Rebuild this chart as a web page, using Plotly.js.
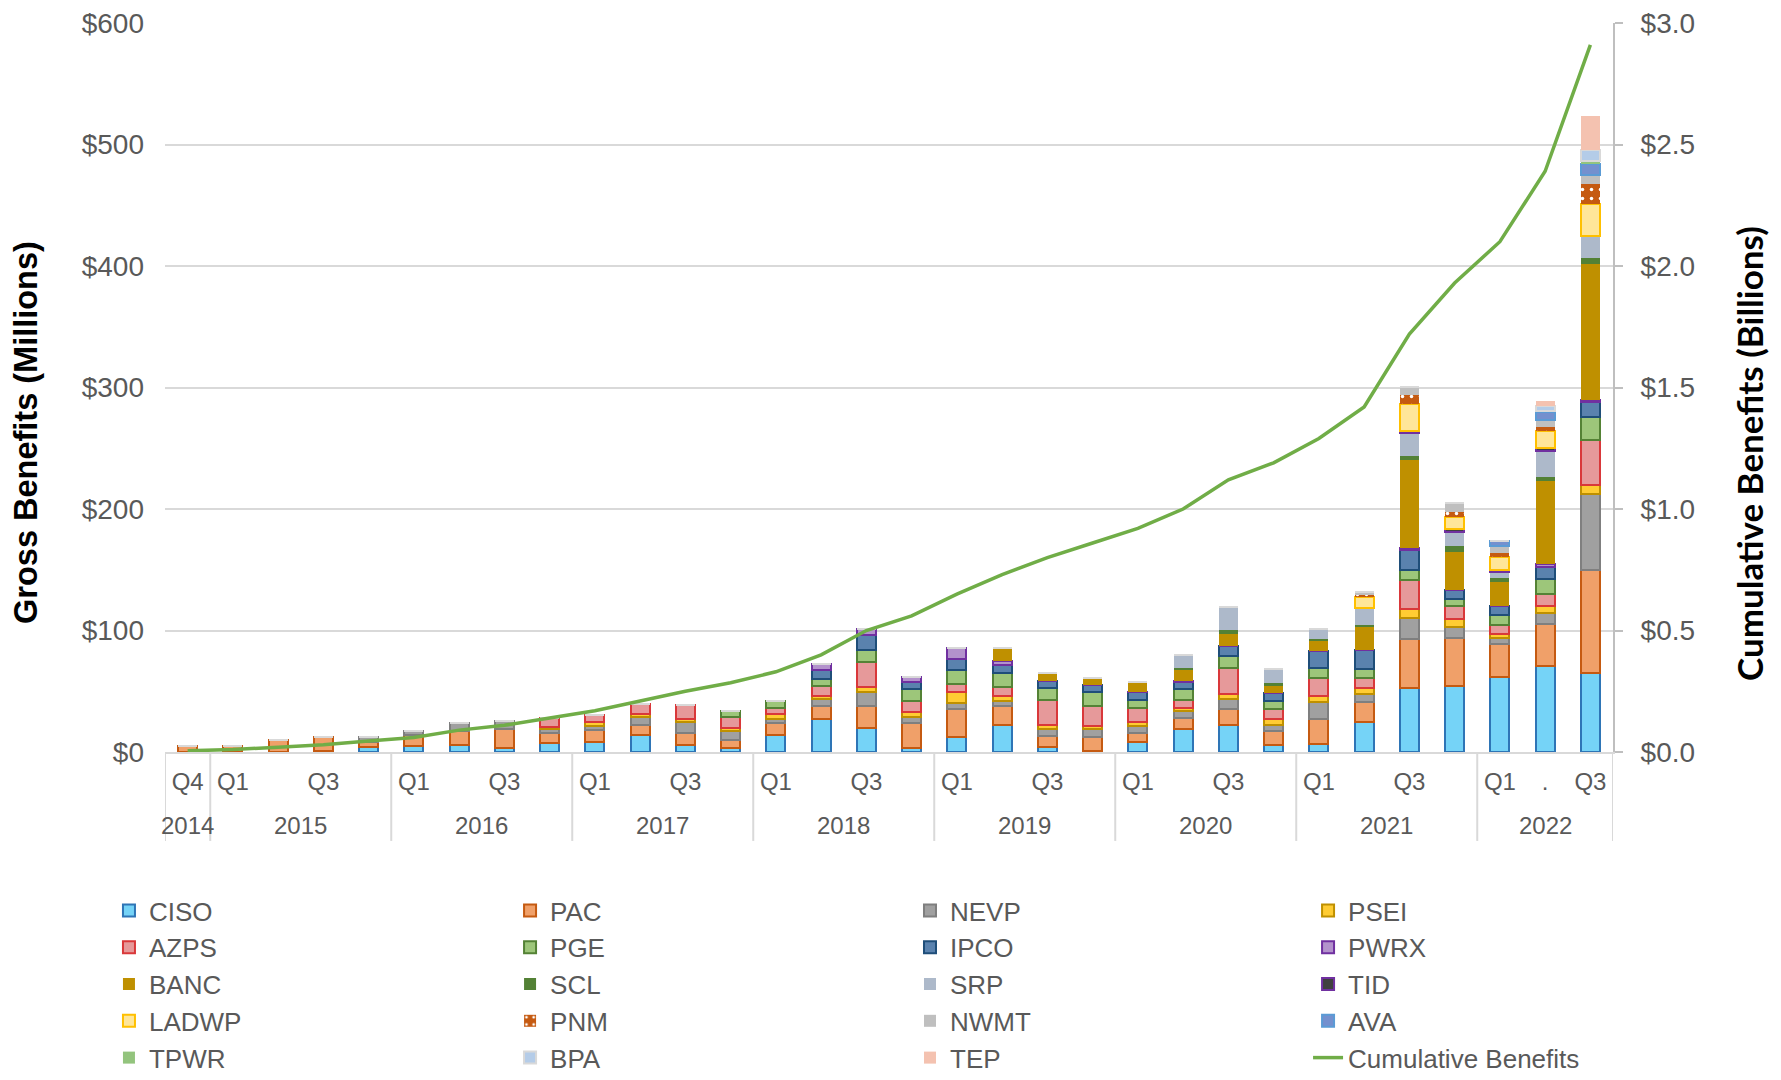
<!DOCTYPE html>
<html>
<head>
<meta charset="utf-8">
<script src="https://cdn.plot.ly/plotly-3.0.1.min.js"></script>
<style>
html,body{margin:0;padding:0;background:#ffffff;}
#chart{width:1781px;height:1080px;}
</style>
</head>
<body>
<div id="chart"></div>
<script>
// ---- Categories (2014 Q4 .. 2022 Q3) ----
const years = ["2014",
  "2015","2015","2015","2015",
  "2016","2016","2016","2016",
  "2017","2017","2017","2017",
  "2018","2018","2018","2018",
  "2019","2019","2019","2019",
  "2020","2020","2020","2020",
  "2021","2021","2021","2021",
  "2022","2022","2022"];
const quarters = ["Q4",
  "Q1","Q2","Q3","Q4", "Q1","Q2","Q3","Q4", "Q1","Q2","Q3","Q4",
  "Q1","Q2","Q3","Q4", "Q1","Q2","Q3","Q4", "Q1","Q2","Q3","Q4",
  "Q1","Q2","Q3","Q4", "Q1","Q2","Q3"];
// Quarter tick labels as printed on the chart (Q2/Q4 unlabeled)
const quarterLabels = ["Q4",
  "Q1","","Q3","", "Q1","","Q3","", "Q1","","Q3","",
  "Q1","","Q3","", "Q1","","Q3","", "Q1","","Q3","",
  "Q1","","Q3","", "Q1",".","Q3"];

// ---- Gross benefits by entity ($ millions) ----
const CISO  = [0,0,0,1,4, 4.7,6,3.3,7.1, 8,14,6,3, 14,27,19.5,3, 12,22,4,0.5, 8,19,22,6, 7,25,53,54, 62,71,65];
const PAC   = [5,5,9.5,11,4, 9.6,11.5,15.6,8.2, 10.2,8.5,9.5,7, 9.5,11,18.5,21, 23,15.5,9.5,11.5, 7.5,9,13.5,11, 20.5,16,40,40, 26.5,34.5,85];
const NEVP  = [0,0,0,0,4, 3.3,6,6.9,3.6, 3.6,6,9,7, 4,5.5,11,4.7, 5.5,4.4,5.5,7, 5.5,5.5,8,5.5, 14,6.5,17.5,9, 5,9,62];
const PSEI  = [0,0,0,0,0, 0,0,0,1.4, 2.5,2.7,3,2.7, 3.5,2.7,4.4,4, 8.8,3.8,3.3,2.7, 3.6,2.7,4,4.7, 5,5.3,7.6,6.8, 3.8,6,8];
const AZPS  = [0,0,0,0,0, 0,0,0,7.4, 6.5,8,11.5,8.8, 5,8.2,20.6,9.3, 7,7.7,20.5,16.5, 11.8,6.3,22,8.2, 14.7,7.9,23.5,10, 7.4,9.7,36.7];
const PGE   = [0,0,0,0,0, 0,0,0,0, 0,0,0,5, 6,5.5,9.6,10, 11.5,11.5,9.6,11, 6.6,9.3,9.6,6.3, 8,7.6,8,6, 8.2,11.8,19];
const IPCO  = [0,0,0,0,0, 0,0,0,0, 0,0,0,0, 0,7.7,13,6, 8.8,7.1,6.3,6.3, 6,5.5,8.2,6.6, 14,16,17,7.6, 7.1,10.3,12];
const PWRX  = [0,0,0,0,0, 0,0,0,0, 0,0,0,0, 0,4.7,4.9,4, 9.3,2.7,0,0, 0.5,0.8,0,0, 0,0,1,0, 0,2.4,2];
const BANC  = [0,0,0,0,0, 0,0,0,0, 0,0,0,0, 0,0,0,0, 0,11,6.6,5.5, 8.5,10.2,9.6,6.3, 8.2,18.5,73,31.5, 20,68,112];
const SCL   = [0,0,0,0,0, 0,0,0,0, 0,0,0,0, 0,0,0,0, 0,0,0,0, 0,0.8,3.3,1.9, 2,2,2.9,4.4, 3.5,3.5,4.8];
const SRP   = [0,0,0,0,0, 0,0,0,0, 0,0,0,0, 0,0,0,0, 0,0,0,0, 0,11,19.2,11.8, 7.9,14,19,11.8, 4.7,21.5,18];
const TID   = [0,0,0,0,0, 0,0,0,0, 0,0,0,0, 0,0,0,0, 0,0,0,0, 0,0,0,0, 0,0,2,2.4, 1.5,2.9,0.5];
const LADWP = [0,0,0,0,0, 0,0,0,0, 0,0,0,0, 0,0,0,0, 0,0,0,0, 0,0,0,0, 0,8.8,22,10, 11,13.8,26];
const PNM   = [0,0,0,0,0, 0,0,0,0, 0,0,0,0, 0,0,0,0, 0,0,0,0, 0,0,0,0, 0,1.5,7.4,3.8, 2.9,3,16.7];
const NWMT  = [0,0,0,0,0, 0,0,0,0, 0,0,0,0, 0,0,0,0, 0,0,0,0, 0,0,0,0, 0,2.9,6.5,7.4, 6,6,7.2];
const AVA   = [0,0,0,0,0, 0,0,0,0, 0,0,0,0, 0,0,0,0, 0,0,0,0, 0,0,0,0, 0,0,0,0, 3.8,6.5,8.8];
const TPWR  = [0,0,0,0,0, 0,0,0,0, 0,0,0,0, 0,0,0,0, 0,0,0,0, 0,0,0,0, 0,0,0,0, 0,1,2.8];
const BPA   = [0,0,0,0,0, 0,0,0,0, 0,0,0,0, 0,0,0,0, 0,0,0,0, 0,0,0,0, 0,0,0,0, 0,3.5,9.2];
const TEP   = [0,0,0,0,0, 0,0,0,0, 0,0,0,0, 0,0,0,0, 0,0,0,0, 0,0,0,0, 0,0,0,0, 0,4.4,28];

// ---- Cumulative benefits ($ billions) ----
const cumulative = [0.005,0.01,0.02,0.03,0.045, 0.06,0.09,0.11,0.14, 0.17,0.21,0.25,0.285, 0.33,0.40,0.50,0.56, 0.65,0.73,0.80,0.86, 0.92,1.00,1.12,1.19, 1.29,1.42,1.72,1.93, 2.10,2.39,2.91];

// ---- Styles ----
const styles = {
  CISO:  {fill:'#75D3F7', border:'#2E75B6', w:2},
  PAC:   {fill:'#F0A069', border:'#C55A11', w:2},
  NEVP:  {fill:'#A0A0A0', border:'#7F7F7F', w:2},
  PSEI:  {fill:'#FFCC33', border:'#BF9000', w:2},
  AZPS:  {fill:'#E6999A', border:'#D9383A', w:2},
  PGE:   {fill:'#9DC67A', border:'#548235', w:2},
  IPCO:  {fill:'#5A82AE', border:'#1F4E79', w:2},
  PWRX:  {fill:'#B392CC', border:'#7030A0', w:2},
  BANC:  {fill:'#BF9000', border:'#BF9000', w:0},
  SCL:   {fill:'#538135', border:'#538135', w:0},
  SRP:   {fill:'#ADB9CA', border:'#ADB9CA', w:0},
  TID:   {fill:'#404040', border:'#7030A0', w:2},
  LADWP: {fill:'#FFE699', border:'#FFC000', w:2},
  PNM:   {fill:'#C55A11', border:'#C55A11', w:0, pattern:true},
  NWMT:  {fill:'#BFBFBF', border:'#BFBFBF', w:0},
  AVA:   {fill:'#7490CE', border:'#5B9BD5', w:2},
  TPWR:  {fill:'#93C47D', border:'#93C47D', w:0},
  BPA:   {fill:'#B4CCE8', border:'#D9D9D9', w:2},
  TEP:   {fill:'#F4C2B0', border:'#F4C2B0', w:0}
};

const seriesData = {CISO, PAC, NEVP, PSEI, AZPS, PGE, IPCO, PWRX, BANC, SCL, SRP, TID, LADWP, PNM, NWMT, AVA, TPWR, BPA, TEP};
const categories = years.map((y, i) => y + ' ' + quarters[i]);

// legend is laid out as 4 columns, filled row by row
const legendIds = ['legend', 'legend2', 'legend3', 'legend4'];

const traces = Object.keys(seriesData).map((name, k) => {
  const s = styles[name];
  const marker = {color: s.fill, line: {color: s.border, width: s.w}};
  if (s.pattern) {
    marker.pattern = {shape: '.', bgcolor: s.fill, fgcolor: '#ffffff', fgopacity: 1, size: 9, solidity: 0.12};
  }
  return {
    type: 'bar', name: name, x: categories, y: seriesData[name],
    marker: marker, hoverinfo: 'name+y', legend: legendIds[k % 4]
  };
});

traces.push({
  type: 'scatter', mode: 'lines', name: 'Cumulative Benefits',
  x: categories, y: cumulative, yaxis: 'y2',
  line: {color: '#70AD47', width: 3.5}, legend: legendIds[traces.length % 4]
});

// ---- Year group labels and dividers derived from the years array ----
const yearGroups = [];
years.forEach((y, i) => {
  const g = yearGroups[yearGroups.length - 1];
  if (g && g.year === y) g.last = i; else yearGroups.push({year: y, first: i, last: i});
});
const labelFont = {family: 'Liberation Sans, Arial, sans-serif', size: 24, color: '#595959'};
const yearAnnotations = yearGroups.map(g => ({
  text: g.year, xref: 'x', yref: 'paper', x: (g.first + g.last) / 2, y: -0.1015,
  xanchor: 'center', yanchor: 'middle', showarrow: false, font: labelFont
}));
const dividerShapes = yearGroups.map(g => g.first - 0.5)
  .concat([yearGroups[yearGroups.length - 1].last + 0.5])
  .map(xb => ({type: 'line', xref: 'x', yref: 'paper', x0: xb, x1: xb, y0: 0, y1: -0.122,
               line: {color: '#d9d9d9', width: 2}, layer: 'below'}));

const tickFont = {family: 'Liberation Sans, Arial, sans-serif', size: 28, color: '#595959'};
const legendFont = {family: 'Liberation Sans, Arial, sans-serif', size: 26, color: '#595959'};
const legendColumnsX = [-0.0387, 0.2383, 0.5145, 0.7894];

const layout = {
  width: 1781, height: 1080,
  paper_bgcolor: '#ffffff', plot_bgcolor: '#ffffff',
  margin: {l: 165, r: 168, t: 23, b: 328},
  barmode: 'stack', bargap: 0.58,
  showlegend: true,
  font: {family: 'Liberation Sans, Arial, sans-serif', color: '#595959'},
  xaxis: {
    type: 'category', range: [-0.5, categories.length - 0.5],
    tickmode: 'array', tickvals: categories, ticktext: quarterLabels,
    showline: true, linecolor: '#d9d9d9', linewidth: 2,
    ticks: '', showgrid: false, zeroline: false,
    ticklabelstandoff: 7, tickangle: 0,
    tickfont: labelFont
  },
  yaxis: {
    range: [0, 600], dtick: 100, tickprefix: '$',
    showgrid: true, gridcolor: '#d9d9d9', gridwidth: 2,
    zeroline: false, showline: false, ticks: '',
    ticklabelstandoff: 20, tickfont: tickFont
  },
  yaxis2: {
    overlaying: 'y', side: 'right',
    range: [0, 3], dtick: 0.5, tickformat: '.1f', tickprefix: '$',
    showgrid: false, zeroline: false,
    showline: true, linecolor: '#bfbfbf', linewidth: 2,
    ticks: 'outside', ticklen: 8, tickcolor: '#bfbfbf', tickwidth: 2,
    ticklabelstandoff: 12, tickfont: tickFont
  },
  shapes: dividerShapes,
  annotations: yearAnnotations.concat([
    {text: '<b>Gross Benefits (Millions)</b>', xref: 'paper', yref: 'paper',
     x: -0.096, y: 0.439, xanchor: 'center', yanchor: 'middle', textangle: -90, showarrow: false,
     font: {family: 'Liberation Sans, Arial, sans-serif', size: 32.5, color: '#000000'}},
    {text: '<b>Cumulative Benefits (Billions)</b>', xref: 'paper', yref: 'paper',
     x: 1.094, y: 0.409, xanchor: 'center', yanchor: 'middle', textangle: -90, showarrow: false,
     font: {family: 'Lato, Liberation Sans, sans-serif', size: 35, color: '#000000'}}
  ])
};
legendIds.forEach((id, c) => {
  layout[id] = {
    orientation: 'v', traceorder: 'normal',
    xref: 'paper', x: legendColumnsX[c], xanchor: 'left',
    yref: 'container', y: 0.1787, yanchor: 'top',
    font: legendFont, bgcolor: 'rgba(0,0,0,0)', tracegroupgap: 0
  };
});

Plotly.newPlot('chart', traces, layout, {displayModeBar: false, responsive: false});
</script>
</body>
</html>
